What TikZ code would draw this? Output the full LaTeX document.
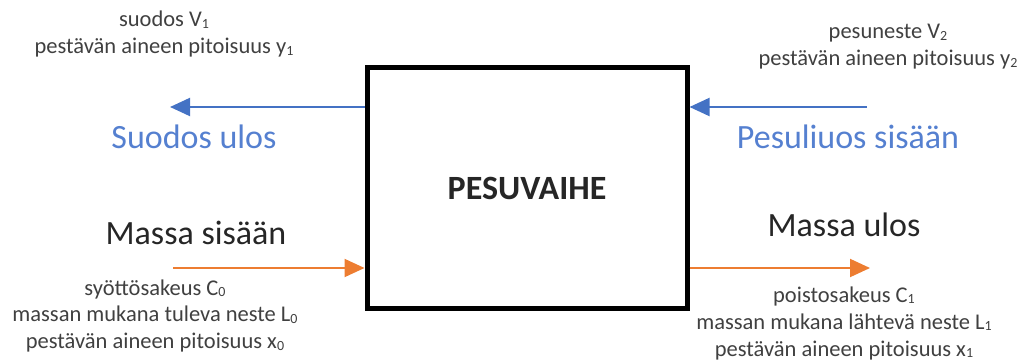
\documentclass[tikz,border=0pt]{standalone}
\usepackage{fontspec}
\setmainfont{Carlito}
\usetikzlibrary{arrows.meta}
\definecolor{flowblue}{HTML}{4472C4}
\definecolor{textblue}{HTML}{5580D0}
\definecolor{flowora}{HTML}{ED7D31}
\definecolor{smallgray}{HTML}{404040}
\definecolor{biggray}{HTML}{262626}
\newcommand{\sbx}[1]{\raisebox{-0.15ex}{\fontsize{14}{14}\selectfont #1}}
\tikzset{
  small/.style={font=\fontsize{22.5}{27}\selectfont, text=smallgray, align=center, inner sep=0pt},
  big/.style={font=\fontsize{34}{38}\selectfont, inner sep=0pt},
  bluearrow/.style={draw=flowblue, line width=2pt, -{Triangle[length=20pt,width=18pt]}},
  orangearrow/.style={draw=flowora, line width=2pt, -{Triangle[length=20pt,width=18pt]}},
}
\begin{document}
\begin{tikzpicture}[x=1pt,y=-1pt]
\useasboundingbox (0,0) rectangle (1027,363);
\node[draw, line width=5pt, minimum width=320pt, minimum height=240pt, inner sep=0pt,
      font=\fontsize{34}{38}\selectfont\bfseries, text=biggray] (box) at (527,188) {PESUVAIHE};
\coordinate (s1) at (170,107);
\coordinate (p1) at (867,107);
\coordinate (m0) at (173,268);
\coordinate (m1) at (870,268);
\draw[bluearrow] (box.west |- s1) -- (s1);
\draw[bluearrow] (p1) -- (box.east |- p1);
\draw[orangearrow] (m0) -- (box.west |- m0);
\draw[orangearrow] (box.east |- m1) -- (m1);
\node[big, text=textblue] (suodos) at (194,137) {Suodos ulos};
\node[big, text=textblue] (pesul) at (848,137) {Pesuliuos sisään};
\node[big, text=biggray] (msis) at (196,233) {Massa sisään};
\node[big, text=biggray] (mulos) at (844,225) {Massa ulos};
\node[small] (tl) at (164,34) {suodos V\sbx{1}\\pestävän aineen pitoisuus y\sbx{1}};
\node[small] (tr) at (888,47) {pesuneste V\sbx{2}\\pestävän aineen pitoisuus y\sbx{2}};
\node[small] (bl) at (155,316) {syöttösakeus C\sbx{0}\\massan mukana tuleva neste L\sbx{0}\\pestävän aineen pitoisuus x\sbx{0}};
\node[small] (br) at (844,323) {poistosakeus C\sbx{1}\\massan mukana lähtevä neste L\sbx{1}\\pestävän aineen pitoisuus x\sbx{1}};
\end{tikzpicture}
\end{document}
